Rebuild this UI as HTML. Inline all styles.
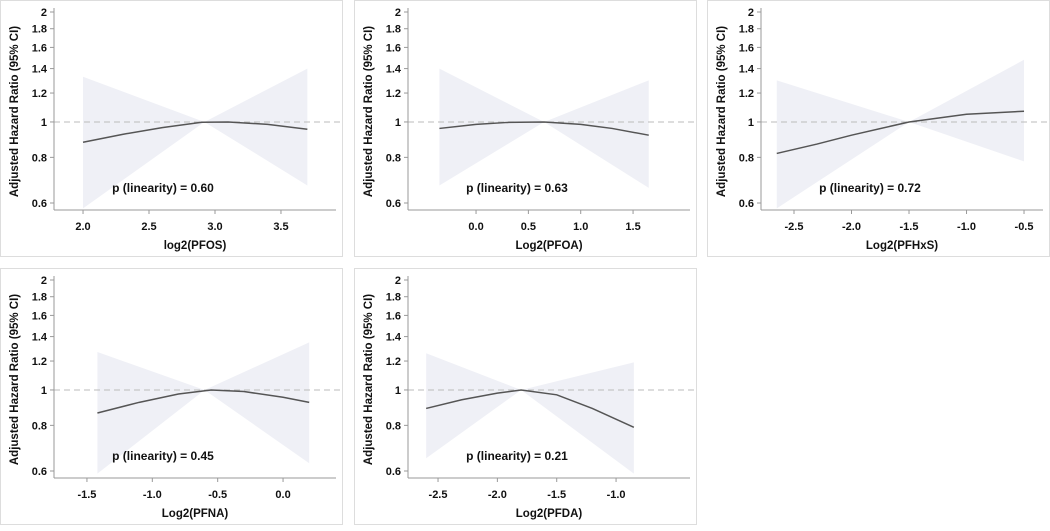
<!DOCTYPE html>
<html><head><meta charset="utf-8"><style>
body{margin:0;background:#fff;width:1050px;height:526px;overflow:hidden;font-family:"Liberation Sans",Arial,sans-serif}
svg text{font-family:"Liberation Sans",Arial,sans-serif;font-weight:bold;fill:#111}
</style></head><body>
<svg id="chart" width="1050" height="526"></svg>
<script>
const panelTitles=["log2(PFOS)","Log2(PFOA)","Log2(PFHxS)","Log2(PFNA)","Log2(PFDA)"];
const pValues=["0.60","0.63","0.72","0.45","0.21"];
const xTicks=[[2.0,2.5,3.0,3.5],[0.0,0.5,1.0,1.5],[-2.5,-2.0,-1.5,-1.0,-0.5],[-1.5,-1.0,-0.5,0.0],[-2.5,-2.0,-1.5,-1.0]];
const yTicks=[0.6,0.8,1,1.2,1.4,1.6,1.8,2];
const yTickLabels=["0.6","0.8","1","1.2","1.4","1.6","1.8","2"];
const estX=[[2.0,2.3,2.6,2.9,3.1,3.4,3.7],[-0.35,0.0,0.3,0.65,1.0,1.3,1.65],[-2.65,-2.3,-2.0,-1.5,-1.0,-0.5],[-1.42,-1.1,-0.8,-0.55,-0.3,0.0,0.2],[-2.6,-2.3,-2.0,-1.8,-1.5,-1.2,-0.85]];
const estY=[[0.88,0.925,0.965,0.998,1.0,0.985,0.955],[0.96,0.985,0.997,1.0,0.985,0.96,0.92],[0.82,0.87,0.92,1.0,1.05,1.07],[0.865,0.925,0.975,1.0,0.99,0.955,0.925],[0.89,0.94,0.98,1.0,0.97,0.89,0.79]];
const bandX=[[2.0,2.92,3.7],[-0.35,0.65,1.65],[-2.65,-1.5,-0.5],[-1.42,-0.6,0.2],[-2.6,-1.8,-0.85]];
const bandHi=[[1.33,1.0,1.40],[1.40,1.0,1.30],[1.30,1.0,1.48],[1.27,1.0,1.35],[1.26,1.0,1.19]];
const bandLo=[[0.58,1.0,0.67],[0.67,1.0,0.66],[0.58,1.0,0.78],[0.59,1.0,0.63],[0.65,1.0,0.59]];
const xDomains=[[1.78,3.917],[-0.65,2.044],[-2.787,-0.335],[-1.752,0.405],[-2.753,-0.377]];
const panelPos=[[0,0],[354,0],[707,0],[0,268],[354,268]];
const NS="http://www.w3.org/2000/svg";
const svg=document.getElementById('chart');
function mk(t,a,p){const e=document.createElementNS(NS,t);for(const k in a)e.setAttribute(k,a[k]);(p||svg).appendChild(e);return e;}
const fmt=v=>v.toFixed(1);
panelTitles.forEach((title,i)=>{
  const [px,py]=panelPos[i];
  const g=mk('g',{transform:`translate(${px},${py})`});
  
  
  const fr=mk('rect',{x:0.5,y:0.5,width:342,height:256,fill:'#fff',stroke:'#ddd'},g);
  
  
  const L=54,R=336,T=12,B=203;
  const [x0,x1]=xDomains[i];
  const sx=v=>L+(v-x0)/(x1-x0)*(R-L);
  const ly0=Math.log(0.6),ly1=Math.log(2);
  const sy=v=>B-(Math.log(v)-ly0)/(ly1-ly0)*(B-T);
  let d='';
  bandX[i].forEach((x,j)=>{d+=(j?'L':'M')+sx(x)+','+sy(bandHi[i][j]);});
  for(let j=bandX[i].length-1;j>=0;j--)d+='L'+sx(bandX[i][j])+','+sy(bandLo[i][j]);
  const band=mk('path',{d:d+'Z',fill:'#eff0f6'},g);
  
  
  const ref=mk('line',{x1:L,x2:340,y1:sy(1),y2:sy(1),stroke:'#bbb','stroke-dasharray':'6,4'},g);
  
  
  let e='';
  estX[i].forEach((x,j)=>{e+=(j?'L':'M')+sx(x)+','+sy(estY[i][j]);});
  const est=mk('path',{d:e,fill:'none',stroke:'#555','stroke-width':1.5},g);
  
  
  const ya=mk('line',{x1:L,x2:L,y1:T-4,y2:B+7,stroke:'#999'},g);
  
  
  const xa=mk('line',{x1:L,x2:R,y1:B+7,y2:B+7,stroke:'#999'},g);
  
  
  yTicks.forEach((v,j)=>{
    mk('line',{x1:L-4,x2:L,y1:sy(v),y2:sy(v),stroke:'#999'},g);
    const t=mk('text',{x:L-7,y:sy(v)+4,'font-size':11,'text-anchor':'end'},g);
    t.textContent=yTickLabels[j];
    
    
  });
  xTicks[i].forEach(v=>{
    mk('line',{x1:sx(v),x2:sx(v),y1:B+7,y2:B+11,stroke:'#999'},g);
    const t=mk('text',{x:sx(v),y:B+27,'font-size':11,'text-anchor':'middle'},g);
    t.textContent=fmt(v);
    
    
  });
  const xt=mk('text',{x:(L+R)/2,y:B+46,'font-size':11.5,'text-anchor':'middle'},g);
  xt.textContent=title;
  
  
  const yt=mk('text',{x:0,y:0,'font-size':11.5,'text-anchor':'middle',transform:`translate(18,${(T+B)/2+4}) rotate(-90)`},g);
  yt.textContent='Adjusted Hazard Ratio (95% CI)';
  
  
  const pt=mk('text',{x:163,y:B-11,'font-size':12,'text-anchor':'middle'},g);
  pt.textContent='p (linearity) = '+pValues[i];
  
  
});
</script>
</body></html>
